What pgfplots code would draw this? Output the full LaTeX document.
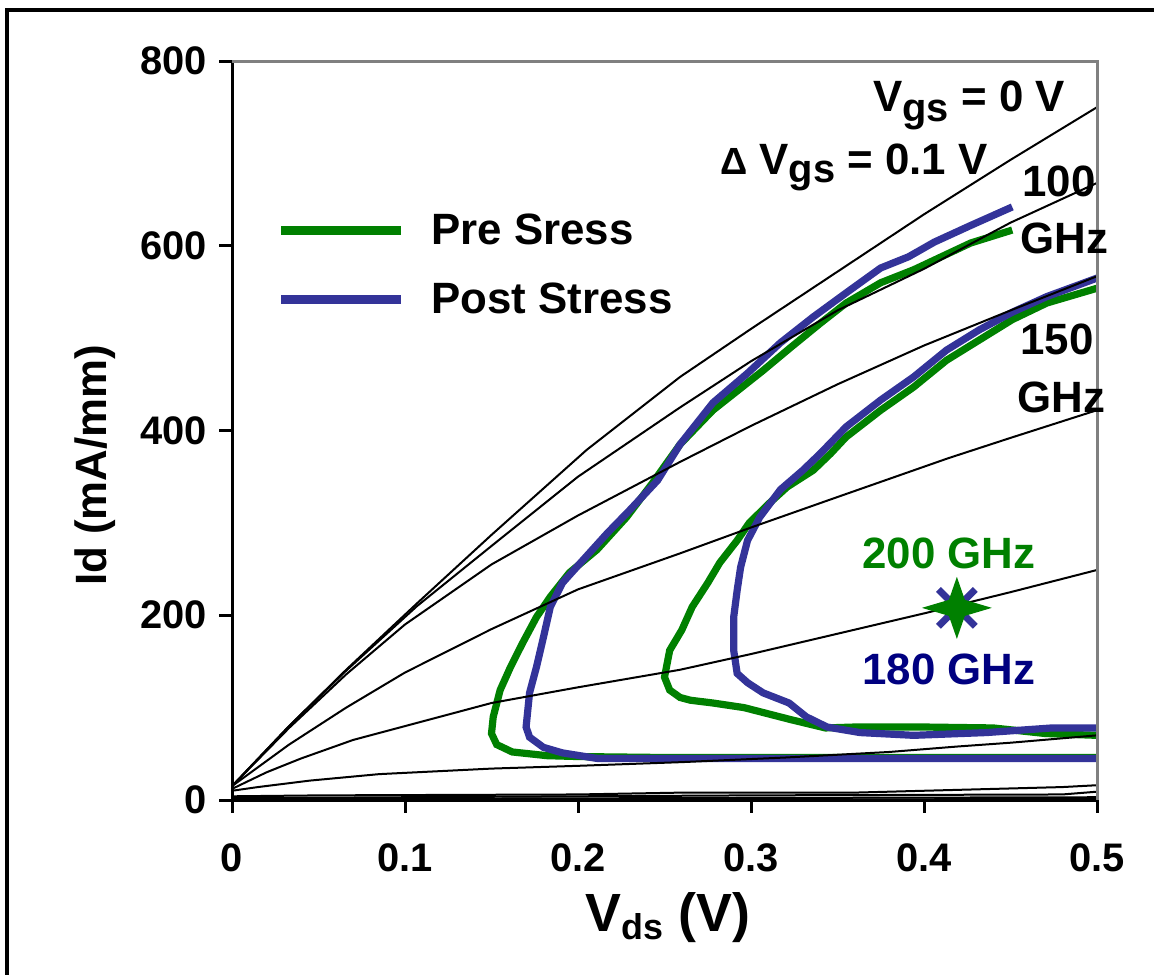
\documentclass[border=0pt]{standalone}
\usepackage{pgfplots}
\pgfplotsset{compat=1.18}
\usepackage{fontspec}
\setmainfont{Liberation Sans}

\definecolor{preg}{RGB}{0,128,0}
\definecolor{postb}{RGB}{51,51,153}
\definecolor{navytxt}{RGB}{0,0,128}
\definecolor{framegray}{RGB}{128,128,128}

% lowered subscript in a chosen size
\newcommand{\sub}[3]{\raisebox{-#1}{\fontsize{#2}{#2}\selectfont #3}}

% four-pointed filled star
\pgfdeclareplotmark{fourstar}{%
  \pgfpathmoveto{\pgfqpoint{0bp}{15.5bp}}%
  \pgfpathlineto{\pgfqpoint{4bp}{4bp}}%
  \pgfpathlineto{\pgfqpoint{17.5bp}{0bp}}%
  \pgfpathlineto{\pgfqpoint{4bp}{-4bp}}%
  \pgfpathlineto{\pgfqpoint{0bp}{-15.5bp}}%
  \pgfpathlineto{\pgfqpoint{-4bp}{-4bp}}%
  \pgfpathlineto{\pgfqpoint{-17.5bp}{0bp}}%
  \pgfpathlineto{\pgfqpoint{-4bp}{4bp}}%
  \pgfpathclose
  \pgfusepathqfill}

\begin{document}
\begin{tikzpicture}
\useasboundingbox (0,0) rectangle (577bp,487.5bp);
% outer frame (top and left edges)
\draw[line width=1.7bp] (3.4bp,0bp) -- (3.4bp,482.5bp) -- (577bp,482.5bp);

\begin{axis}[
  at={(116bp,87.5bp)}, anchor=south west,
  scale only axis, width=432.5bp, height=369.5bp,
  xmin=0, xmax=0.5, ymin=0, ymax=800,
  axis lines=left,
  axis line style={-, line width=1.5bp, black},
  xtick={0,0.1,0.2,0.3,0.4,0.5},
  ytick={0,200,400,600,800},
  tick align=outside, major tick length=6.5bp,
  tick style={line width=1.5bp, black},
  /pgf/number format/assume math mode=true,
  ticklabel style={font=\fontsize{20}{20}\selectfont\bfseries},
  xticklabel style={/pgf/number format/fixed, /pgf/number format/precision=1, yshift=-12bp},
  yticklabel style={xshift=-2.5bp},
  xlabel={V\sub{4bp}{18}{ds} (V)},
  xlabel style={font=\fontsize{27}{27}\selectfont\bfseries, anchor=base, at={(axis description cs:0.504,-0.1786)}},
  ylabel={Id (mA/mm)},
  ylabel style={font=\fontsize{22}{22}\selectfont\bfseries, anchor=center, at={(axis description cs:-0.158,0.453)}},
  clip mode=individual,
  legend image code/.code={\draw[#1] (0bp,0bp) -- (60bp,0bp);},
  legend style={at={(axis description cs:0.051,0.7997)}, anchor=north west,
    draw=none, fill=none, inner sep=0pt, row sep=14bp, column sep=11bp,
    font=\fontsize{22}{22}\selectfont\bfseries},
  legend cell align=left,
]

% fT contours, pre stress
\addplot[preg, line width=3.6bp, forget plot] coordinates {
(0.451,617)(0.427,603)(0.394,574)(0.375,560)(0.355,538)(0.340,516)(0.323,490)
(0.307,465)(0.278,422)(0.259,385)(0.243,343)(0.228,306)(0.211,271)(0.195,246)
(0.184,220)(0.176,198)(0.168,170)(0.161,144)(0.155,119)(0.151,90)(0.150,72)
(0.153,60)(0.162,52)(0.182,48)(0.201,47)(0.25,46)(0.35,46)(0.5,46)};
\addplot[preg, line width=3.6bp, forget plot] coordinates {
(0.5,554)(0.471,538)(0.451,520)(0.432,498)(0.413,476)(0.394,447)(0.375,422)
(0.355,393)(0.346,375)(0.336,357)(0.321,339)(0.311,322)(0.299,300)(0.292,281)
(0.282,257)(0.275,235)(0.266,209)(0.260,184)(0.253,162)(0.250,133)(0.253,119)
(0.259,111)(0.265,108)(0.278,105)(0.296,100)(0.323,87)(0.343,78)(0.36,79)
(0.40,79)(0.44,78)(0.47,72)(0.5,70)};

% fT contours, post stress
\addplot[postb, line width=3.6bp, forget plot] coordinates {
(0.451,642)(0.427,622)(0.406,604)(0.391,588)(0.375,576)(0.355,549)(0.336,523)
(0.317,495)(0.298,462)(0.278,430)(0.259,385)(0.246,346)(0.230,314)(0.217,289)
(0.203,260)(0.191,235)(0.184,209)(0.180,176)(0.176,144)(0.172,116)(0.170,79)
(0.172,68)(0.180,57)(0.191,51)(0.211,45)(0.259,45)(0.35,45)(0.5,45)};
\addplot[postb, line width=3.6bp, forget plot] coordinates {
(0.5,565)(0.471,545)(0.451,528)(0.432,509)(0.413,487)(0.394,458)(0.375,433)
(0.355,404)(0.340,375)(0.330,357)(0.317,336)(0.305,306)(0.298,281)(0.294,252)
(0.292,227)(0.290,198)(0.290,162)(0.292,137)(0.298,127)(0.307,116)(0.322,105)
(0.332,90)(0.344,79)(0.363,73)(0.394,70)(0.436,73)(0.474,78)(0.5,78)};

% output characteristics, Vgs stepped by 0.1 V
\addplot[black, line width=1bp, forget plot] coordinates {
(0,15)(0.033,80)(0.066,141)(0.107,213)(0.15,287)(0.205,379)(0.259,458)(0.3,510)
(0.35,572)(0.4,634)(0.45,693)(0.5,750)};
\addplot[black, line width=1bp, forget plot] coordinates {
(0,15)(0.033,80)(0.066,140)(0.107,210)(0.15,275)(0.2,350)(0.259,425)(0.3,475)
(0.35,530)(0.4,575)(0.45,625)(0.5,668)};
\addplot[black, line width=1bp, forget plot] coordinates {
(0,15)(0.033,78)(0.066,136)(0.1,190)(0.15,255)(0.2,308)(0.259,366)(0.3,405)
(0.35,450)(0.4,492)(0.45,530)(0.5,567)};
\addplot[black, line width=1bp, forget plot] coordinates {
(0,15)(0.033,60)(0.066,100)(0.1,138)(0.15,185)(0.2,228)(0.259,267)(0.3,295)
(0.35,328)(0.414,370)(0.45,392)(0.5,422)};
\addplot[black, line width=1bp, forget plot] coordinates {
(0,12)(0.02,30)(0.04,45)(0.07,65)(0.1,80)(0.15,105)(0.2,122)(0.259,141)
(0.3,158)(0.35,180)(0.4,202)(0.45,225)(0.5,249)};
\addplot[black, line width=1bp, forget plot] coordinates {
(0,10)(0.015,14)(0.045,21)(0.085,28)(0.15,34)(0.2,37)(0.26,41)(0.32,46)
(0.38,52)(0.42,58)(0.45,62)(0.5,70)};
\addplot[black, line width=1bp, forget plot] coordinates {
(0,4)(0.05,5)(0.2,6)(0.26,8)(0.36,8)(0.42,11)(0.48,14)(0.5,16)};
\addplot[black, line width=1bp, forget plot] coordinates {
(0,2)(0.2,4)(0.3,5)(0.48,6)(0.5,9)};
\addplot[black, line width=1bp, forget plot] coordinates {(0,1)(0.5,3)};
\addplot[black, line width=1bp, forget plot] coordinates {(0,0)(0.5,1)};

% peak fT points
\addplot[postb, only marks, mark=x, mark size=13bp, line width=3.5bp, forget plot] coordinates {(0.419,208)};
\addplot[preg, only marks, mark=fourstar, forget plot] coordinates {(0.419,208)};

\addlegendimage{preg, line width=4.5bp}
\addlegendentry{Pre Sress}
\addlegendimage{postb, line width=4.5bp}
\addlegendentry{Post Stress}

% top and right frame of the plot area
\draw[framegray, line width=1.5bp] (rel axis cs:0,1) -- (rel axis cs:1,1) -- (rel axis cs:1,0);

\begin{scope}[every node/.style={inner sep=0pt, anchor=base west, font=\fontsize{22}{22}\selectfont\bfseries}]
\node at (axis cs:0.3705,745) {V\sub{5bp}{20}{gs} = 0 V};
\node at (axis cs:0.282,677) {{\fontsize{19}{19}\selectfont Δ} V\sub{4bp}{20}{gs} = 0.1 V};
\node at (axis cs:0.4566,653) {100};
\node at (axis cs:0.4555,592) {GHz};
\node at (axis cs:0.4555,482) {150};
\node at (axis cs:0.4538,420) {GHz};
\node[text=preg] at (axis cs:0.3642,251) {200 GHz};
\node[text=navytxt] at (axis cs:0.3642,124.5) {180 GHz};
\end{scope}
\end{axis}
\end{tikzpicture}
\end{document}
